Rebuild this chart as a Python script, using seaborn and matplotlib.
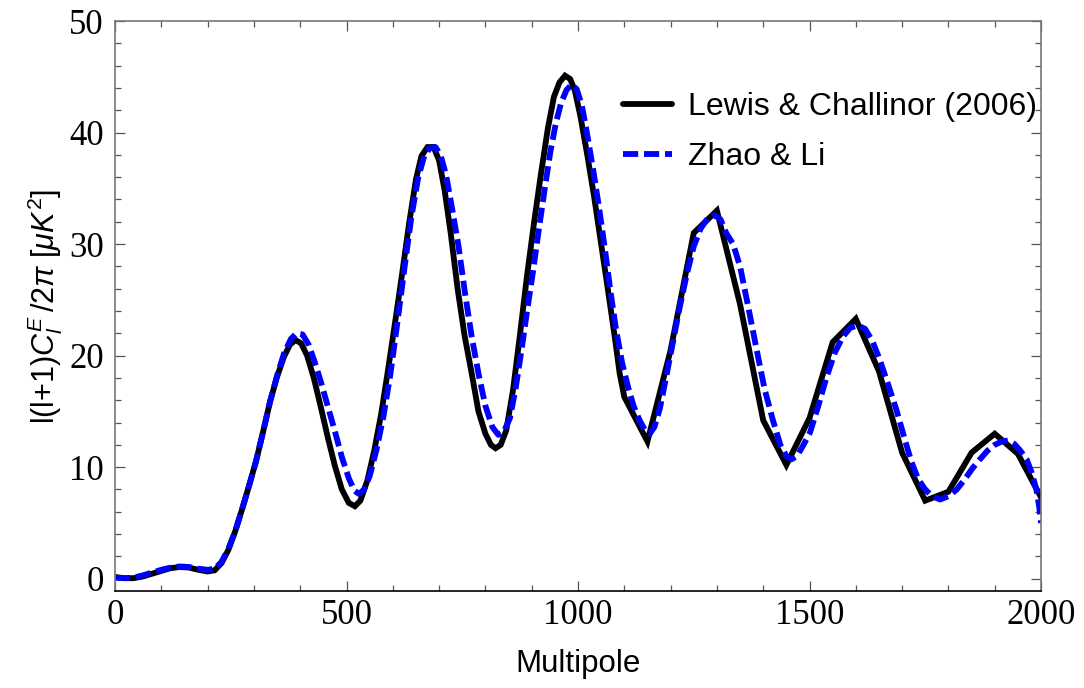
import numpy as np
import pandas as pd
import matplotlib
matplotlib.use("Agg")
import matplotlib.pyplot as plt
import seaborn as sns
from matplotlib.ticker import MultipleLocator

# ---- data ----
lewis_l = [0, 20, 40, 60, 80, 100, 120, 140, 160, 180, 200, 215, 230, 245, 260, 275, 290,
           305, 320, 335, 350, 365, 378, 390, 402, 415, 430, 445, 460, 475, 490, 505, 518,
           530, 545, 560, 575, 590, 605, 620, 635, 650, 662, 675, 688, 700, 712, 725, 740,
           755, 770, 785, 800, 812, 822, 833, 845, 860, 875, 890, 905, 920, 935, 948, 960,
           972, 983, 993, 1005, 1020, 1035, 1050, 1065, 1080, 1090, 1100,
           1150, 1200, 1250, 1300, 1350, 1400, 1450, 1500, 1550, 1600, 1650, 1700,
           1750, 1800, 1850, 1900, 1950, 2000]
lewis_cl = [0.15, 0.05, 0.05, 0.2, 0.45, 0.7, 0.95, 1.05, 1.0, 0.8, 0.65, 0.75, 1.4, 2.6,
            4.3, 6.3, 8.4, 10.6, 13.2, 15.9, 18.1, 19.9, 21.0, 21.4, 21.1, 20.0, 17.9, 15.3,
            12.6, 10.1, 8.0, 6.8, 6.5, 7.0, 8.8, 11.5, 14.8, 18.8, 23.0, 27.3, 31.8, 35.8,
            37.9, 38.7, 38.7, 37.5, 34.8, 31.0, 26.0, 21.8, 18.5, 15.0, 13.0, 12.0, 11.7,
            12.0, 13.3, 17.0, 22.0, 27.2, 31.9, 36.3, 40.4, 43.2, 44.5, 45.1, 44.8, 43.8,
            41.5, 38.0, 34.2, 30.0, 25.8, 21.5, 18.4, 16.3,
            12.3, 20.5, 31.0, 33.0, 24.6, 14.2, 10.2, 14.4, 21.2, 23.3, 18.6, 11.3,
            7.0, 7.8, 11.3, 13.0, 11.2, 7.3]

zhao_l = [0, 20, 40, 60, 80, 100, 120, 140, 160, 180, 200, 215, 230, 245, 260, 275, 290,
          305, 320, 335, 350, 365, 380, 392, 405, 418, 430, 445, 460, 475, 490, 505, 517,
          527, 538, 550, 565, 580, 595, 610, 625, 640, 655, 668, 680, 692, 703, 715, 728,
          742, 756, 770, 785, 800, 815, 828, 840, 853, 865, 878, 890, 903, 915, 928, 940,
          952, 963, 975, 986, 997, 1008, 1020, 1033, 1045, 1058, 1070, 1082, 1095, 1108,
          1120, 1133, 1145, 1155, 1165, 1177, 1190, 1205, 1220, 1235, 1250, 1265, 1280,
          1295, 1308, 1320, 1335, 1350, 1368, 1386, 1403, 1421, 1437, 1450, 1461, 1473,
          1487, 1501, 1519, 1537, 1555, 1572, 1588, 1605, 1620, 1636, 1652, 1670, 1688,
          1705, 1720, 1735, 1750, 1765, 1782, 1800, 1818, 1835, 1852, 1868, 1885, 1900,
          1915, 1930, 1942, 1955, 1969, 1980, 1990, 1996, 2000]
zhao_cl = [0.1, 0.05, 0.1, 0.3, 0.55, 0.8, 1.0, 1.1, 1.05, 0.9, 0.8, 0.9, 1.5, 2.7, 4.3,
           6.3, 8.4, 10.6, 13.2, 15.9, 18.2, 20.2, 21.5, 22.0, 21.9, 21.0, 19.6, 17.6, 15.4,
           13.2, 10.9, 9.0, 7.9, 7.6, 8.0, 9.2, 11.6, 14.6, 18.4, 23.0, 27.8, 32.4, 36.0,
           37.9, 38.6, 38.7, 38.0, 36.2, 33.2, 29.8, 25.6, 21.8, 18.4, 15.5, 13.6, 12.9,
           13.2, 14.4, 17.0, 20.5, 24.0, 27.6, 31.2, 34.9, 38.2, 40.8, 42.6, 43.8, 44.3,
           43.9, 42.5, 39.8, 36.6, 33.4, 29.6, 25.8, 22.4, 19.4, 17.2, 15.5, 14.2, 13.3,
           13.0, 13.6, 15.3, 18.0, 21.2, 24.4, 27.3, 29.8, 31.4, 32.3, 32.6, 32.2, 31.0,
           30.0, 28.0, 24.3, 20.5, 17.0, 14.2, 12.0, 11.0, 10.7, 11.0, 12.0, 13.1, 15.5,
           18.1, 20.3, 21.7, 22.5, 22.7, 22.4, 21.3, 19.6, 17.4, 15.1, 12.6, 10.5, 8.9,
           8.0, 7.4, 7.1, 7.4, 8.0, 8.9, 9.9, 10.7, 11.5, 12.0, 12.3, 12.4, 12.1, 11.5,
           10.7, 9.5, 8.0, 6.5, 5.0]

series_names = ["Lewis & Challinor (2006)", "Zhao & Li"]
x_ticks = [0, 500, 1000, 1500, 2000]
y_ticks = [0, 10, 20, 30, 40, 50]

df = pd.concat([
    pd.DataFrame({"l": lewis_l, "cl": lewis_cl, "model": series_names[0]}),
    pd.DataFrame({"l": zhao_l, "cl": zhao_cl, "model": series_names[1]}),
], ignore_index=True)

sns.set_style("ticks")
plt.rcParams["font.family"] = ["Liberation Sans", "DejaVu Sans"]
plt.rcParams["mathtext.fontset"] = "custom"
plt.rcParams["mathtext.rm"] = "Liberation Sans"
plt.rcParams["mathtext.it"] = "Liberation Sans:italic"
plt.rcParams["text.color"] = "black"
plt.rcParams["axes.labelcolor"] = "black"

fig = plt.figure(figsize=(10.84, 6.88), dpi=100)
ax = fig.add_axes([115 / 1084, 1 - 591 / 688, (1041 - 115) / 1084, (591 - 21) / 688])

LW = 4.2
sns.lineplot(data=df, x="l", y="cl", hue="model", style="model",
             palette={series_names[0]: "black", series_names[1]: "#0000ff"},
             dashes={series_names[0]: "", series_names[1]: (2.6, 1.0)},
             linewidth=LW, ax=ax, estimator=None, sort=False, legend=True)
for ln in ax.get_lines():
    ln.set_dash_capstyle("butt")
    ln.set_solid_capstyle("round")
    ln.set_solid_joinstyle("miter")

ax.set_xlim(0, 2000)
ax.set_ylim(-1.1, 50)
ax.set_xticks(x_ticks)
ax.set_yticks(y_ticks)
ax.xaxis.set_minor_locator(MultipleLocator(100))
ax.yaxis.set_minor_locator(MultipleLocator(2))
ax.tick_params(which="both", direction="in", top=True, right=True, width=0.9,
               labelsize=25, labelfontfamily="Liberation Serif", colors="#555555",
               labelcolor="black")
ax.tick_params(which="major", length=7.5)
ax.tick_params(which="minor", length=4.5)
ax.tick_params(axis="x", which="major", pad=6)
ax.tick_params(axis="y", which="major", pad=8)
for s in ["left", "right", "top"]:
    ax.spines[s].set_color("#777777")
    ax.spines[s].set_linewidth(1.2)
ax.spines["bottom"].set_color("black")
ax.spines["bottom"].set_linewidth(1.2)

ax.set_xlabel("Multipole", fontsize=22.5, labelpad=12, color="black")
ax.set_ylabel(r"l(l+1)$C_l^E\,\mathit{/2}\pi\ [\mu K^2]$", fontsize=22, labelpad=3,
              color="black")

handles, labels = ax.get_legend_handles_labels()
leg = ax.legend(handles, labels, loc="upper right", frameon=False, fontsize=23,
                bbox_to_anchor=(1037 / 1084, 1 - 92 / 688), bbox_transform=fig.transFigure,
                borderpad=0, borderaxespad=0, handlelength=1.55, handletextpad=0.5,
                labelspacing=0.62)
for h in leg.get_lines():
    h.set_linewidth(LW)
for t in leg.get_texts():
    t.set_color("black")

fig.savefig("out.png", dpi=100)
